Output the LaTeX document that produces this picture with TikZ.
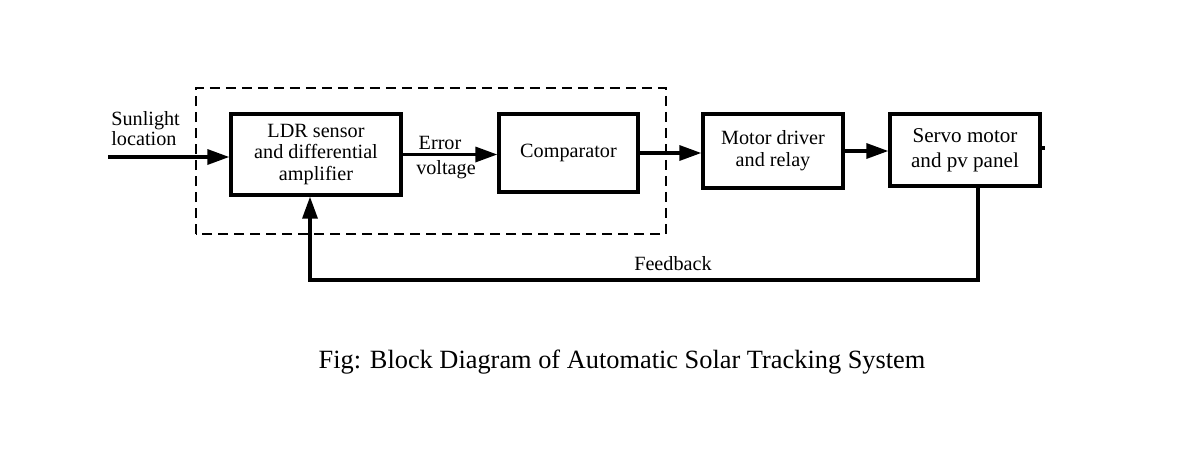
\documentclass[tikz,border=0pt]{standalone}
\usepackage{fontspec}
\setmainfont{Liberation Serif}
\usetikzlibrary{arrows.meta}
\tikzset{>={Triangle[length=0.44cm, width=0.3cm]}}
\tikzset{
  block/.style={draw, line width=1.9pt, align=center, inner sep=0pt,
    font=\fontsize{11.5}{12.5}\selectfont},
  wire/.style={line width=1.9pt},
  lbl/.style={font=\fontsize{11.5}{10}\selectfont, inner sep=0pt}
}

\begin{document}
\begin{tikzpicture}
    \useasboundingbox (0,0) rectangle (23.98,9.08);
    % blocks
    \node[block, minimum width=3.4cm, minimum height=1.62cm] (ldr) at (6.32,5.99) {LDR sensor\\and differential\\amplifier};
    \node[block, minimum width=2.78cm, minimum height=1.56cm] (comp) at (11.37,6.02) {Comparator};
    \node[block, minimum width=2.8cm, minimum height=1.48cm] (motor) at (15.46,6.06) {Motor driver\\and relay};
    \node[block, minimum width=3.0cm, minimum height=1.44cm, font=\fontsize{12}{14}\selectfont] (servo) at (19.3,6.08) {Servo motor\\and pv panel};
    % controller frame
    \draw[line width=1.3pt, dash pattern=on 0.2cm off 0.12cm] (3.92,4.4) rectangle (13.32,7.32);
    % connectors
    \coordinate (in) at (2.16,5.94);
    \coordinate (out) at (20.9,6.12);
    \coordinate (fbR) at (19.56,3.48);
    \coordinate (fbL) at (6.2,3.48);
    \draw[wire, ->] (in) -- (in -| ldr.west);
    \draw[wire, ->] (ldr.east) -- (ldr.east -| comp.west);
    \draw[wire, ->] (comp.east) -- (comp.east -| motor.west);
    \draw[wire, ->] (motor.east) -- (motor.east -| servo.west);
    \draw[wire] (servo.east |- out) -- (out);
    \draw[wire, ->] (servo.south -| fbR) -- (fbR) -- (fbL) -- (fbL |- ldr.south);
    % labels
    \node[lbl, anchor=west, align=left] (sun) at (2.22,6.5) {Sunlight\\location};
    \node[lbl] (err) at (8.8,6.22) {Error};
    \node[lbl] (volt) at (8.92,5.68) {voltage};
    \node[lbl] (fb) at (13.46,3.8) {Feedback};
    \node[font=\fontsize{15}{17}\selectfont] (cap) at (12.44,1.84) {Fig: Block Diagram of Automatic Solar Tracking System};
\end{tikzpicture}
\end{document}
